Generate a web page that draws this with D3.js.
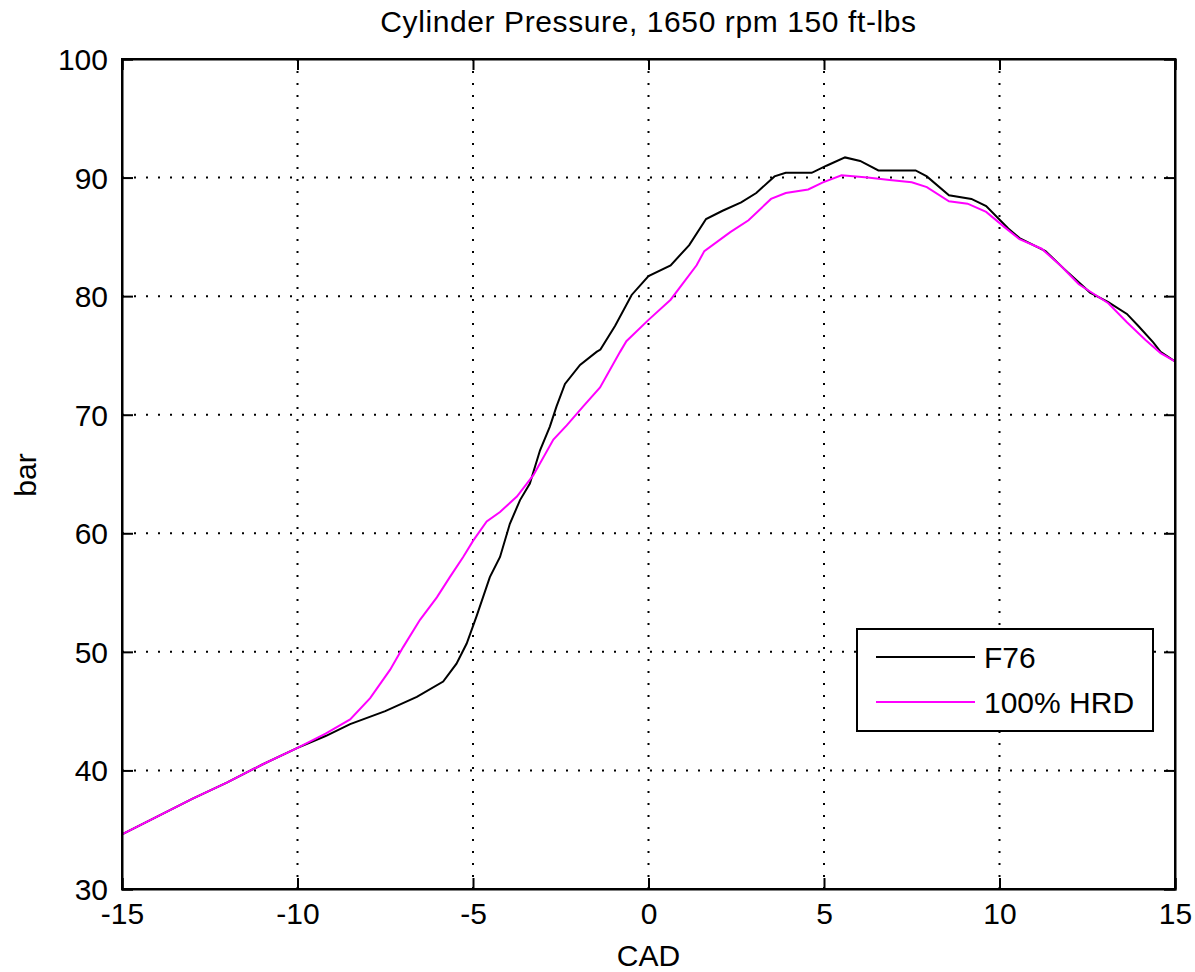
<!DOCTYPE html>
<html><head><meta charset="utf-8">
<script src="https://cdn.jsdelivr.net/npm/d3@7"></script>
<style>
html,body{margin:0;padding:0;background:#fff;}
text{font-family:"Liberation Sans",Arial,sans-serif;fill:#000;}
</style></head>
<body>
<svg id="chart" width="1195" height="972"></svg>
<script>
const title = "Cylinder Pressure, 1650 rpm 150 ft-lbs";
const xLabel = "CAD";
const yLabel = "bar";
const xTicks = [-15,-10,-5,0,5,10,15];
const yTicks = [30,40,50,60,70,80,90,100];
const seriesNames = ["F76","100% HRD"];
const seriesColors = ["#000000","#ff00ff"];

const cadF76 = [-15,-14,-13,-12,-11,-10,-9.2,-8.5,-7.5,-6.6,-5.85,-5.47,-5.18,-4.9,-4.52,-4.23,-3.95,-3.66,-3.38,-3.09,-2.81,-2.62,-2.38,-1.95,-1.48,-1.37,-0.95,-0.48,0,0.63,1.16,1.64,2.11,2.64,3.07,3.59,3.91,4.65,5.07,5.6,6.03,6.55,7.61,7.93,8.56,9.2,9.62,10.25,10.57,11.31,11.84,12.58,13.1,13.63,13.95,14.38,14.59,15];
const barF76 = [34.6,36.1,37.6,39.0,40.5,41.9,42.9,43.9,45.0,46.2,47.5,49.0,50.7,53.0,56.3,58.0,60.8,62.8,64.2,67.0,69.0,70.7,72.6,74.2,75.3,75.5,77.5,80.1,81.7,82.6,84.3,86.5,87.2,87.9,88.7,90.1,90.4,90.4,91.0,91.7,91.4,90.6,90.6,90.1,88.5,88.2,87.6,85.7,84.9,83.8,82.3,80.3,79.5,78.5,77.5,76.1,75.3,74.5];

const cadHRD = [-15,-14,-13,-12,-11,-10,-9.2,-8.5,-7.93,-7.36,-6.99,-6.51,-6.03,-5.66,-5.28,-4.99,-4.61,-4.23,-3.75,-3.28,-2.71,-2.33,-1.86,-1.38,-0.81,-0.63,0,0.63,1.37,1.59,2.33,2.85,3.49,3.91,4.55,4.97,5.5,6.24,6.87,7.5,7.93,8.56,9.09,9.62,10.15,10.57,11.2,11.73,12.26,12.68,13.1,13.63,14.16,14.59,15];
const barHRD = [34.6,36.1,37.6,39.0,40.5,41.9,43.1,44.3,46.1,48.5,50.4,52.7,54.6,56.3,58.0,59.4,61.0,61.8,63.1,64.9,67.9,69.1,70.7,72.3,75.3,76.2,78.0,79.7,82.6,83.8,85.4,86.4,88.2,88.7,89.0,89.6,90.2,90.0,89.8,89.6,89.2,88.0,87.8,87.1,85.8,84.8,84.0,82.6,81.0,80.2,79.4,77.8,76.3,75.2,74.5];

const svg = d3.select("#chart");
const L = 122, R = 1175, T = 59, B = 889;
const x = d3.scaleLinear().domain([-15,15]).range([L,R]);
const y = d3.scaleLinear().domain([30,100]).range([B,T]);
const FS = 30;
const fmt = d => String(d);

// grid
const grid = svg.append("g");
xTicks.slice(1,-1).forEach(v=>{
  grid.append("line").attr("x1",x(v)).attr("x2",x(v)).attr("y1",T).attr("y2",B)
    .attr("stroke","#000").attr("stroke-width",2).attr("stroke-dasharray","2,10");
});
yTicks.slice(1,-1).forEach(v=>{
  grid.append("line").attr("x1",L).attr("x2",R).attr("y1",y(v)).attr("y2",y(v))
    .attr("stroke","#000").attr("stroke-width",2).attr("stroke-dasharray","2,10");
});

// lines
const line = d3.line().x(d=>x(d[0])).y(d=>y(d[1]));
const dF76 = cadF76.map((c,i)=>[c,barF76[i]]);
const dHRD = cadHRD.map((c,i)=>[c,barHRD[i]]);
svg.append("clipPath").attr("id","clp").append("rect")
  .attr("x",L).attr("y",T).attr("width",R-L).attr("height",B-T);
svg.append("path").datum(dF76).attr("d",line).attr("fill","none")
  .attr("stroke",seriesColors[0]).attr("stroke-width",2).attr("clip-path","url(#clp)");
svg.append("path").datum(dHRD).attr("d",line).attr("fill","none")
  .attr("stroke",seriesColors[1]).attr("stroke-width",2).attr("clip-path","url(#clp)");

// axes with inward ticks (MATLAB box)
const tl = 11;
const axB = svg.append("g").attr("transform",`translate(0,${B})`)
  .call(d3.axisBottom(x).tickValues(xTicks).tickSize(-tl).tickPadding(14).tickFormat(fmt));
const axT = svg.append("g").attr("transform",`translate(0,${T})`)
  .call(d3.axisTop(x).tickValues(xTicks).tickSize(-tl).tickFormat(""));
const axL = svg.append("g").attr("transform",`translate(${L},0)`)
  .call(d3.axisLeft(y).tickValues(yTicks).tickSize(-tl).tickPadding(14).tickFormat(fmt));
const axR = svg.append("g").attr("transform",`translate(${R},0)`)
  .call(d3.axisRight(y).tickValues(yTicks).tickSize(-tl).tickFormat(""));
[axB,axT,axL,axR].forEach(a=>{
  a.select(".domain").attr("stroke","#000").attr("stroke-width",2);
  a.selectAll(".tick line").attr("stroke","#000").attr("stroke-width",2);
  a.selectAll(".tick text").attr("font-size",FS).attr("font-family",'"Liberation Sans",Arial,sans-serif').attr("fill","#000");
});
axB.selectAll(".tick text").attr("dy","0.71em").attr("y",14);
axL.selectAll(".tick text").attr("x",-14).attr("dy","0.35em");
svg.append("rect").attr("x",L).attr("y",T).attr("width",R-L).attr("height",B-T)
  .attr("fill","none").attr("stroke","#000").attr("stroke-width",2);

// title and labels
svg.append("text").attr("x",(L+R)/2).attr("y",32).attr("text-anchor","middle")
  .attr("font-size",FS).attr("letter-spacing",0.6).text(title);
svg.append("text").attr("x",(L+R)/2).attr("y",966).attr("text-anchor","middle")
  .attr("font-size",FS).text(xLabel);
svg.append("text").attr("transform","translate(36,475) rotate(-90)").attr("text-anchor","middle")
  .attr("font-size",FS).text(yLabel);

// legend
const lg = svg.append("g");
lg.append("rect").attr("x",857).attr("y",629).attr("width",296).attr("height",102)
  .attr("fill","#fff").attr("stroke","#000").attr("stroke-width",2);
const lgY = [657,702];
seriesNames.forEach((n,i)=>{
  lg.append("line").attr("x1",876).attr("x2",975).attr("y1",lgY[i]).attr("y2",lgY[i])
    .attr("stroke",seriesColors[i]).attr("stroke-width",2);
  lg.append("text").attr("x",984).attr("y",lgY[i]).attr("dy","0.36em")
    .attr("font-size",FS).text(n);
});
</script>
</body></html>
